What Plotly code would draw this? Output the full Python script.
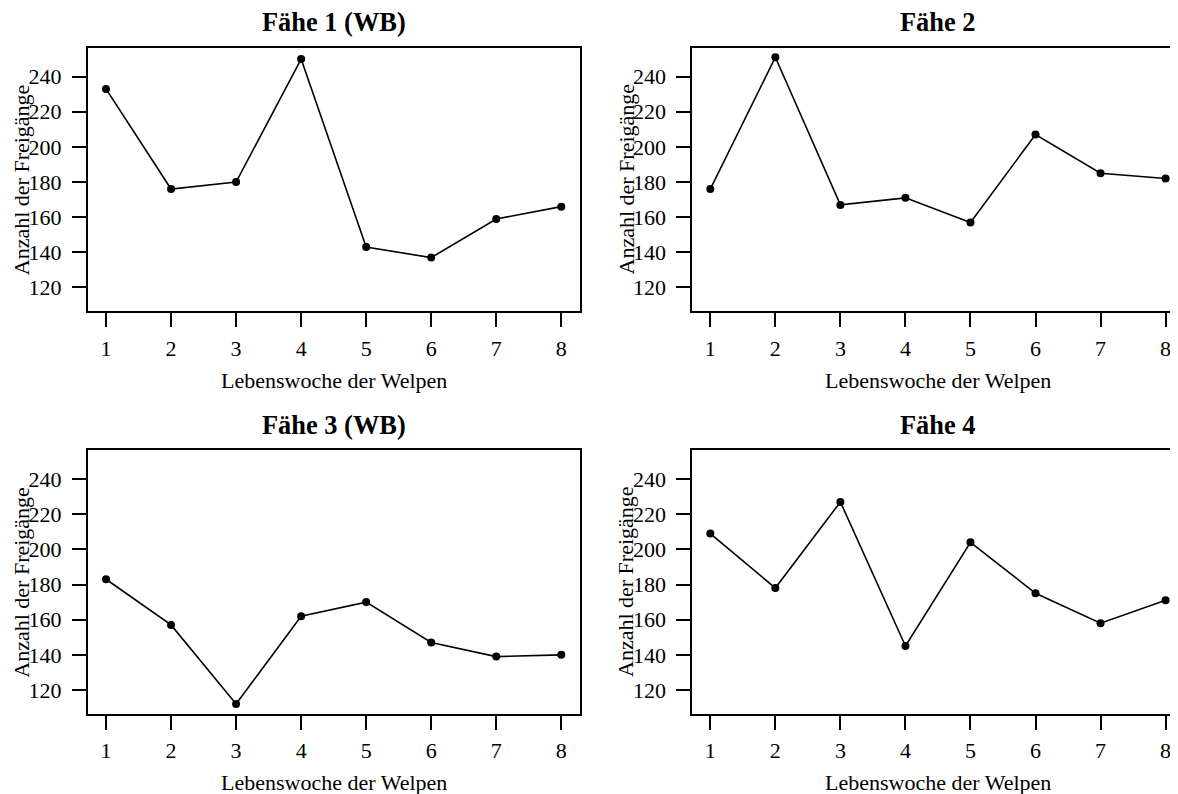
import plotly.graph_objects as go

weeks = [1, 2, 3, 4, 5, 6, 7, 8]
titles = ["Fähe 1 (WB)", "Fähe 2", "Fähe 3 (WB)", "Fähe 4"]
faehe1 = [233, 176, 180, 250, 143, 137, 159, 166]
faehe2 = [176, 251, 167, 171, 157, 207, 185, 182]
faehe3 = [183, 157, 112, 162, 170, 147, 139, 140]
faehe4 = [209, 178, 227, 145, 204, 175, 158, 171]
series = [faehe1, faehe2, faehe3, faehe4]
y_ticks = [120, 140, 160, 180, 200, 220, 240]
x_label = "Lebenswoche der Welpen"
y_label = "Anzahl der Freigänge"

W, H = 1178, 794
OFF = 8  # page body margin: screen = figure + 8
FONT = "Liberation Serif, Times New Roman, serif"

# panel boxes in screen pixels (left, right, top, bottom)
boxes = [
    (87.8, 579.5, 47.5, 311.3),
    (692.1, 1183.8, 47.5, 311.3),
    (87.8, 579.5, 450.0, 713.8),
    (692.1, 1183.8, 450.0, 713.8),
]
x_range = [0.72, 8.28]
y_range = [106.44, 256.56]

fig = go.Figure()
annotations = []
for i, (vals, box) in enumerate(zip(series, boxes)):
    l, r, t, b = [v - OFF for v in box]
    n = "" if i == 0 else str(i + 1)
    fig.add_trace(go.Scatter(
        x=weeks, y=vals, mode="lines+markers",
        line=dict(color="black", width=1.6),
        marker=dict(color="black", size=8),
        xaxis="x" + n, yaxis="y" + n, showlegend=False, hoverinfo="skip",
    ))
    common = dict(
        showline=True, linecolor="black", linewidth=1.6,
        ticks="outside", ticklen=14, tickwidth=1.5, tickcolor="black",
        showgrid=False, zeroline=False,
        tickfont=dict(family=FONT, size=22, color="black"),
    )
    fig.layout["xaxis" + n] = dict(
        common, domain=[l / W, r / W], range=x_range,
        tickmode="array", tickvals=weeks, ticktext=[str(w) for w in weeks],
        anchor="y" + n, mirror=True, ticklabelstandoff=2,
    )
    fig.layout["yaxis" + n] = dict(
        common, domain=[1 - b / H, 1 - t / H], range=y_range,
        tickmode="array", tickvals=y_ticks, ticktext=[str(v) for v in y_ticks],
        anchor="x" + n, mirror=True, ticklabelstandoff=6,
    )
    cx = (l + r) / 2
    annotations.append(dict(
        text="<b>" + titles[i] + "</b>", x=cx / W, y=1 - (t - 25.5) / H,
        xref="paper", yref="paper", showarrow=False, xanchor="center", yanchor="middle",
        font=dict(family=FONT, size=26.4, color="black"),
    ))
    annotations.append(dict(
        text=x_label, x=cx / W, y=1 - (b + 69) / H,
        xref="paper", yref="paper", showarrow=False, xanchor="center", yanchor="middle",
        font=dict(family=FONT, size=22, color="black"),
    ))
    annotations.append(dict(
        text=y_label, x=(l - 66) / W, y=1 - ((t + b) / 2) / H,
        xref="paper", yref="paper", showarrow=False, xanchor="center", yanchor="middle",
        textangle=-90, font=dict(family=FONT, size=22, color="black"),
    ))

fig.update_layout(
    width=W, height=H, margin=dict(l=0, r=0, t=0, b=0),
    paper_bgcolor="white", plot_bgcolor="white",
    annotations=annotations,
)
fig.write_html("out.html")
